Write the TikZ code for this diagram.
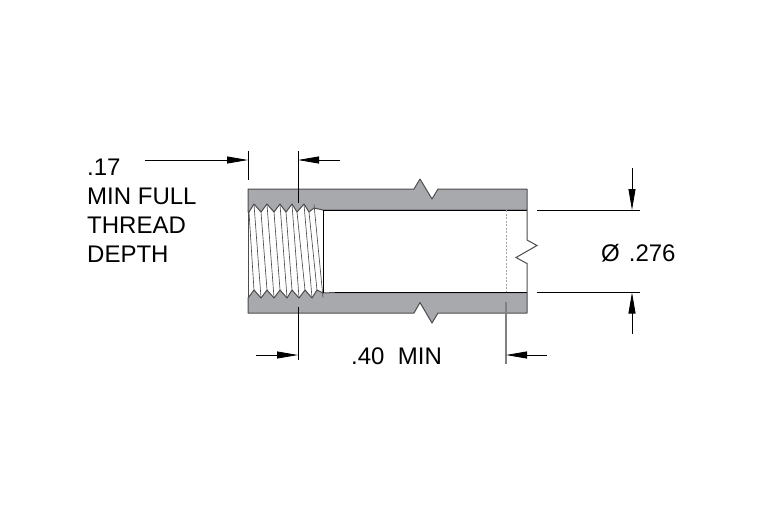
\documentclass[tikz,border=0pt]{standalone}
\usepackage{fontspec}
\setmainfont{Liberation Sans}
\usepackage{tikz}
\usetikzlibrary{arrows.meta}

\definecolor{wallgray}{HTML}{A7A9AC}
\definecolor{edgegray}{HTML}{4D4D4F}
\tikzset{
    wall/.style={fill=wallgray, draw=edgegray, line width=1pt, line join=round},
    extline/.style={draw=black, line width=0.9pt},
    dimline/.style={draw=black, line width=0.8pt, -{Triangle[length=21pt,width=7pt]}},
    threadline/.style={draw=black!70, line width=0.65pt},
    dimtext/.style={font=\fontsize{24}{28}\selectfont, anchor=base west, inner sep=0pt}
}

\begin{document}
\begin{tikzpicture}[x=1pt, y=-1pt]
    \useasboundingbox (0,0) rectangle (780,520);

    % walls
    \path[wall] (248,189) -- (414,189) -- (420,179) -- (432,199) -- (438,189) -- (527,189) -- (527,210)
        -- (323,210) -- (314,208) -- (309,212) -- (304,204) -- (297,212) -- (292,204) -- (286,212) -- (280,204)
        -- (274,212) -- (267,204) -- (261,212) -- (254,204) -- (249,212) -- (248,212) -- cycle;
    \path[wall] (248,313) -- (414,313) -- (420,302.5) -- (432,323) -- (438,313) -- (527,313) -- (527,292.5)
        -- (335,292.5) -- (323,293) -- (317,290) -- (312,298) -- (305,290) -- (299,298) -- (292,290) -- (287,298)
        -- (280,290) -- (274,298) -- (267,290) -- (261,298) -- (254,290) -- (248,298) -- cycle;

    % thread
    \foreach \xa/\xb in {249/254, 261/267, 274/280, 286/292, 297/305, 309/317} {
        \draw[threadline] (\xa,212) -- (\xb,290);
    }
    \foreach \xa/\xb in {254/261, 267/274, 280/287, 292/299, 304/312, 314/323} {
        \draw[threadline] (\xa,204.5) -- (\xb,297.5);
    }
    \draw[edgegray, line width=1pt] (248,212) -- (248,298);
    \draw[black, line width=1pt] (323,210) -- (323,293);

    % bore and break
    \draw[black, line width=1pt] (323,210) -- (527,210);
    \draw[black, line width=1pt] (335,292.5) -- (527,292.5);
    \draw[edgegray, line width=1pt] (527,210) -- (527,240) -- (537,245.5) -- (516,257.5) -- (527,263.5) -- (527,292.5);
    \draw[black!35, line width=0.7pt, dashed, dash pattern=on 2pt off 1.5pt] (506.5,210) -- (506.5,292);

    % extension lines
    \coordinate (tla) at (248,151);
    \coordinate (tlb) at (248,180);
    \coordinate (tra) at (298,151);
    \coordinate (trb) at (298,203);
    \coordinate (bla) at (298,307);
    \coordinate (blb) at (298,360);
    \coordinate (bra) at (506,302);
    \coordinate (brb) at (506,364);
    \coordinate (dta) at (537,210.5);
    \coordinate (dtb) at (640,210.5);
    \coordinate (dba) at (537,292.5);
    \coordinate (dbb) at (640,292.5);
    \draw[extline] (tla) -- (tlb);
    \draw[extline] (tra) -- (trb);
    \draw[extline] (bla) -- (blb);
    \draw[extline, draw=black!50, line width=1.2pt] (bra) -- (brb);
    \draw[extline] (dta) -- (dtb);
    \draw[extline] (dba) -- (dbb);

    % dimension arrows
    \coordinate (da) at (145,160);
    \coordinate (db) at (248,160);
    \coordinate (dc) at (340,160);
    \coordinate (dd) at (298,160);
    \coordinate (de) at (256,355);
    \coordinate (df) at (298,355);
    \coordinate (dg) at (547,355);
    \coordinate (dh) at (506,355);
    \coordinate (di) at (632,168);
    \coordinate (dj) at (632,210);
    \coordinate (dk) at (632,334);
    \coordinate (dl) at (632,292.5);
    \draw[dimline] (da) -- (db);
    \draw[dimline] (dc) -- (dd);
    \draw[dimline] (de) -- (df);
    \draw[dimline] (dg) -- (dh);
    \draw[dimline] (di) -- (dj);
    \draw[dimline] (dk) -- (dl);

    % labels
    \node[dimtext] (depthval) at (87,175) {.17};
    \node[dimtext] (depthone) at (87,204) {MIN FULL};
    \node[dimtext] (depthtwo) at (87,233) {THREAD};
    \node[dimtext] (depththree) at (87,262) {DEPTH};
    \node[dimtext] (minlen) at (351,364) {.40\ \ MIN};
    \node[dimtext] (borediam) at (601,261) {Ø\hspace{9pt}.276};
\end{tikzpicture}
\end{document}
